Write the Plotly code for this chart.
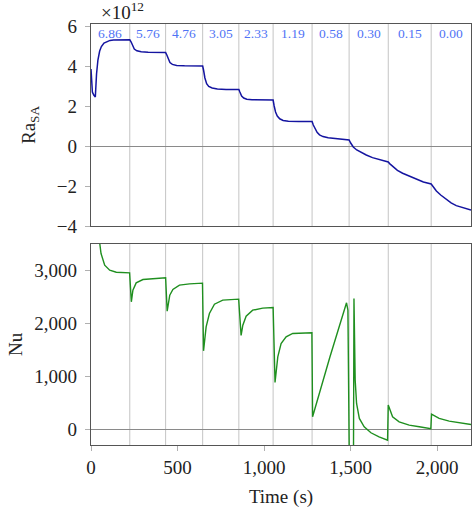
import plotly.graph_objects as go

# ---------------- data ----------------
# Rayleigh number (x 1e12) vs time
ra_time = [0, 8, 16, 25, 32, 40, 50, 60, 75, 90, 110, 130, 160, 200, 224,
           232, 240, 250, 265, 290, 330, 431,
           438, 446, 456, 470, 495, 540, 645,
           650, 658, 668, 680, 700, 730, 780, 854,
           860, 870, 882, 900, 930, 1052,
           1058, 1066, 1076, 1090, 1110, 1140, 1200, 1277,
           1284, 1294, 1306, 1320, 1340, 1370, 1420, 1491,
           1500, 1515, 1535, 1560, 1590, 1626, 1670, 1717,
           1725, 1745, 1770, 1800, 1840, 1880, 1920, 1965,
           1975, 1995, 2020, 2050, 2080, 2110, 2150, 2195]
ra_value = [3.85, 2.7, 2.55, 2.45, 3.6, 4.3, 4.75, 4.97, 5.15, 5.22, 5.28, 5.3, 5.31, 5.31, 5.31,
            5.2, 5.0, 4.85, 4.76, 4.71, 4.69, 4.67,
            4.55, 4.35, 4.17, 4.08, 4.03, 4.01, 4.0,
            3.8, 3.4, 3.12, 2.98, 2.9, 2.85, 2.83, 2.83,
            2.7, 2.5, 2.4, 2.34, 2.31, 2.3,
            2.0, 1.7, 1.5, 1.36, 1.28, 1.24, 1.23, 1.23,
            1.05, 0.85, 0.68, 0.56, 0.47, 0.41, 0.36, 0.3,
            0.15, -0.05, -0.2, -0.33, -0.45, -0.58, -0.68, -0.8,
            -0.88, -1.05, -1.22, -1.36, -1.52, -1.68, -1.8, -1.9,
            -2.02, -2.25, -2.45, -2.66, -2.84, -2.98, -3.1, -3.2]

# Nusselt number vs time
nu_time = [30, 45, 50, 58, 79, 108, 146, 223,
           233, 242, 261, 300, 358, 431,
           440, 455, 473, 511, 569, 644,
           650, 665, 684, 713, 761, 853,
           867, 877, 896, 934, 992, 1052,
           1063, 1079, 1098, 1127, 1165, 1276,
           1280, 1380, 1476, 1484, 1499, 1514, 1519,
           1526, 1534, 1550, 1578, 1617, 1664, 1713,
           1717, 1742, 1780, 1838, 1896, 1963,
           1967, 2011, 2069, 2126, 2195]
nu_value = [7000, 4500, 3520, 3315, 3094, 3000, 2962, 2950,
            2403, 2623, 2761, 2824, 2843, 2855,
            2226, 2528, 2635, 2717, 2742, 2755,
            1478, 1931, 2182, 2358, 2434, 2453,
            1767, 1962, 2132, 2245, 2283, 2296,
            880, 1365, 1616, 1742, 1805, 1818,
            233, 1360, 2384, 2245, -3000, -3000, 2465,
            925, 484, 201, 44, -69, -145, -208,
            453, 233, 138, 75, 44, 6,
            283, 201, 151, 119, 88]

# switching times and labels of each stage
switch_times = [224, 431, 645, 854, 1052, 1277, 1491, 1717, 1965]
stage_labels = ["6.86", "5.76", "4.76", "3.05", "2.33", "1.19", "0.58", "0.30", "0.15", "0.00"]

x_ticks = [0, 500, 1000, 1500, 2000]
ra_ticks = [-4, -2, 0, 2, 4, 6]
nu_ticks = [0, 1000, 2000, 3000]

X_MAX = 2195
FONT = "Liberation Serif"
TXT = "#222222"

W, H = 472, 516
ML, MR, MT, MB = 91, 1, 24, 71
plot_w = W - ML - MR
plot_h = H - MT - MB


def px_x(px):
    return (px - ML) / plot_w


def px_y(py):
    return (H - MB - py) / plot_h


fig = go.Figure()
fig.add_trace(go.Scatter(x=ra_time, y=ra_value, mode="lines",
                         line=dict(color="#1414a0", width=1.5),
                         xaxis="x", yaxis="y", showlegend=False))
fig.add_trace(go.Scatter(x=nu_time, y=nu_value, mode="lines",
                         line=dict(color="#1f8f1f", width=1.4),
                         xaxis="x2", yaxis="y2", showlegend=False))

shapes = []
for t in switch_times:
    for xr, yr in (("x", "y domain"), ("x2", "y2 domain")):
        shapes.append(dict(type="line", xref=xr, yref=yr, x0=t, x1=t, y0=0, y1=1,
                           line=dict(color="#c4c4c4", width=1), layer="below"))

annotations = []
bounds = [0] + switch_times + [X_MAX]
for i, lab in enumerate(stage_labels):
    xc = (bounds[i] + bounds[i + 1]) / 2
    annotations.append(dict(x=xc, y=5.65, xref="x", yref="y", text=lab, showarrow=False,
                            xanchor="center", yanchor="middle",
                            font=dict(family=FONT, size=13.5, color="#4f73f5")))

annotations.append(dict(x=px_x(99), y=px_y(11), xref="paper", yref="paper",
                        text="×10<sup>12</sup>", showarrow=False,
                        xanchor="left", yanchor="middle",
                        font=dict(family=FONT, size=19, color=TXT)))

top_bottom = px_y(226)
bot_top = px_y(243.7)

annotations.append(dict(x=px_x(30), y=px_y(125), xref="paper", yref="paper",
                        text="Ra<sub>SA</sub>", textangle=-90, showarrow=False,
                        xanchor="center", yanchor="middle",
                        font=dict(family=FONT, size=19, color=TXT)))
annotations.append(dict(x=px_x(15), y=px_y(344), xref="paper", yref="paper",
                        text="Nu", textangle=-90, showarrow=False,
                        xanchor="center", yanchor="middle",
                        font=dict(family=FONT, size=19, color=TXT)))

common_axis = dict(showline=True, mirror=True, linecolor="#555555", linewidth=1.3,
                   showgrid=False, tickfont=dict(family=FONT, size=19, color=TXT),
                   ticks="outside", tickcolor="#b0b0b0", tickwidth=1)

fig.update_layout(
    width=W, height=H,
    margin=dict(l=ML, r=MR, t=MT, b=MB),
    plot_bgcolor="white", paper_bgcolor="white",
    font=dict(family=FONT, color=TXT),
    xaxis={**common_axis, "range": [0, X_MAX], "domain": [0, 1], "anchor": "y",
           "showticklabels": False, "tickvals": x_ticks, "ticks": "", "zeroline": False},
    yaxis={**common_axis, "range": [-4, 6.1], "domain": [top_bottom, 1], "anchor": "x",
           "tickvals": ra_ticks, "ticklen": 5,
           "ticktext": [("−" + str(-v)) if v < 0 else str(v) for v in ra_ticks],
           "zeroline": True, "zerolinecolor": "#8a8a8a", "zerolinewidth": 1,
           "ticklabelstandoff": 4},
    xaxis2={**common_axis, "range": [0, X_MAX], "domain": [0, 1], "anchor": "y2",
            "tickvals": x_ticks, "tickformat": ",d", "zeroline": False, "ticklen": 5,
            "title": dict(text="Time (s)", font=dict(family=FONT, size=19, color=TXT),
                          standoff=12)},
    yaxis2={**common_axis, "range": [-300, 3500], "domain": [0, bot_top], "anchor": "x2",
            "tickvals": nu_ticks, "tickformat": ",d", "ticklen": 5,
            "zeroline": True, "zerolinecolor": "#8a8a8a", "zerolinewidth": 1,
            "ticklabelstandoff": 4},
    shapes=shapes,
    annotations=annotations,
)

fig.write_html("out.html")
